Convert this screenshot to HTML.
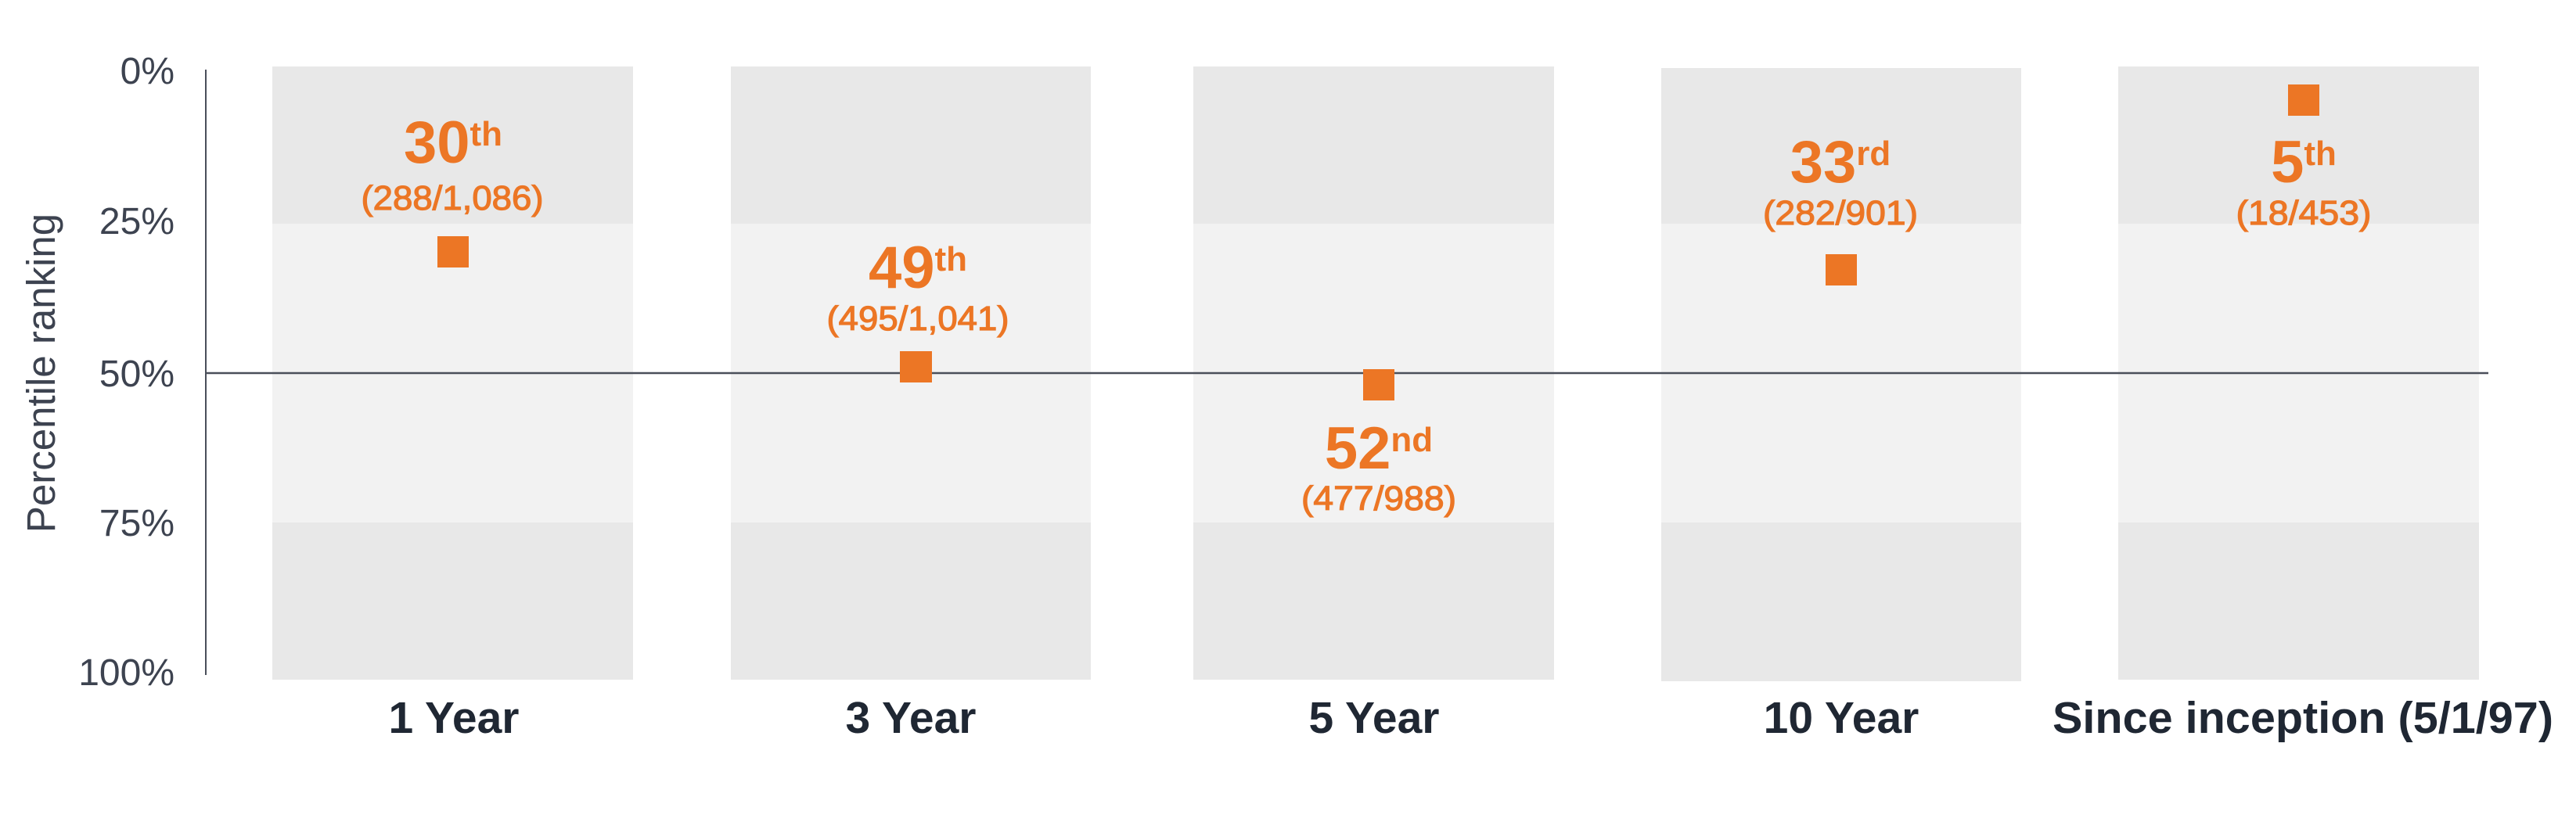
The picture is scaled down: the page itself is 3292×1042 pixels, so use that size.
<!DOCTYPE html>
<html><head><meta charset="utf-8"><style>
html,body{margin:0;padding:0;background:#fff;}
svg{display:block;}
text{font-family:"Liberation Sans",sans-serif;}
.tk{font-size:48px;fill:#3d4350;text-anchor:end;}
.xl{font-size:57px;font-weight:bold;fill:#1f2733;text-anchor:middle;}
.big{font-size:76px;font-weight:bold;fill:#ec7625;text-anchor:middle;}
.sup{font-size:44px;}
.par{font-size:44px;fill:#ec7625;stroke:#ec7625;stroke-width:1.2;text-anchor:middle;}
</style></head><body>
<svg width="3292" height="1042" viewBox="0 0 3292 1042" xmlns="http://www.w3.org/2000/svg">
<rect x="348" y="85" width="461" height="201" fill="#e8e8e8"/><rect x="348" y="286" width="461" height="382" fill="#f2f2f2"/><rect x="348" y="668" width="461" height="201" fill="#e8e8e8"/>
<rect x="934" y="85" width="460" height="201" fill="#e8e8e8"/><rect x="934" y="286" width="460" height="382" fill="#f2f2f2"/><rect x="934" y="668" width="460" height="201" fill="#e8e8e8"/>
<rect x="1525" y="85" width="461" height="201" fill="#e8e8e8"/><rect x="1525" y="286" width="461" height="382" fill="#f2f2f2"/><rect x="1525" y="668" width="461" height="201" fill="#e8e8e8"/>
<rect x="2123" y="87" width="460" height="199" fill="#e8e8e8"/><rect x="2123" y="286" width="460" height="382" fill="#f2f2f2"/><rect x="2123" y="668" width="460" height="203" fill="#e8e8e8"/>
<rect x="2707" y="85" width="461" height="201" fill="#e8e8e8"/><rect x="2707" y="286" width="461" height="382" fill="#f2f2f2"/><rect x="2707" y="668" width="461" height="201" fill="#e8e8e8"/>
<line x1="263" y1="89" x2="263" y2="863" stroke="#4a4f5a" stroke-width="2"/>
<line x1="264" y1="477" x2="3180" y2="477" stroke="#4a4f5a" stroke-width="2.5"/>
<text class="tk" x="223" y="107">0%</text>
<text class="tk" x="223" y="299">25%</text>
<text class="tk" x="223" y="494">50%</text>
<text class="tk" x="223" y="685">75%</text>
<text class="tk" x="223" y="876" font-size="52">100%</text>
<text x="70" y="477" transform="rotate(-90 70 477)" text-anchor="middle" font-size="51" fill="#3d4350">Percentile ranking</text>

<rect x="559" y="302" width="40" height="40" fill="#ec7625"/>
<rect x="1150" y="449" width="41" height="40" fill="#ec7625"/>
<rect x="1742" y="472" width="40" height="40" fill="#ec7625"/>
<rect x="2333" y="325" width="40" height="40" fill="#ec7625"/>
<rect x="2924" y="108" width="40" height="40" fill="#ec7625"/>

<text class="big" x="579" y="208">30<tspan class="sup" dy="-22">th</tspan></text>
<text class="par" x="578" y="268" textLength="233" lengthAdjust="spacingAndGlyphs">(288/1,086)</text>
<text class="big" x="1173" y="368">49<tspan class="sup" dy="-22">th</tspan></text>
<text class="par" x="1173" y="422" textLength="233" lengthAdjust="spacingAndGlyphs">(495/1,041)</text>
<text class="big" x="1762" y="599">52<tspan class="sup" dy="-22">nd</tspan></text>
<text class="par" x="1762" y="652" textLength="198" lengthAdjust="spacingAndGlyphs">(477/988)</text>
<text class="big" x="2352" y="233">33<tspan class="sup" dy="-22">rd</tspan></text>
<text class="par" x="2352" y="287" textLength="198" lengthAdjust="spacingAndGlyphs">(282/901)</text>
<text class="big" x="2944" y="233">5<tspan class="sup" dy="-22">th</tspan></text>
<text class="par" x="2944" y="287" textLength="173" lengthAdjust="spacingAndGlyphs">(18/453)</text>

<text class="xl" x="580" y="937">1 Year</text>
<text class="xl" x="1164" y="937">3 Year</text>
<text class="xl" x="1756" y="937">5 Year</text>
<text class="xl" x="2353" y="937">10 Year</text>
<text class="xl" x="2943" y="937" textLength="640" lengthAdjust="spacingAndGlyphs">Since inception (5/1/97)</text>
</svg>
</body></html>
